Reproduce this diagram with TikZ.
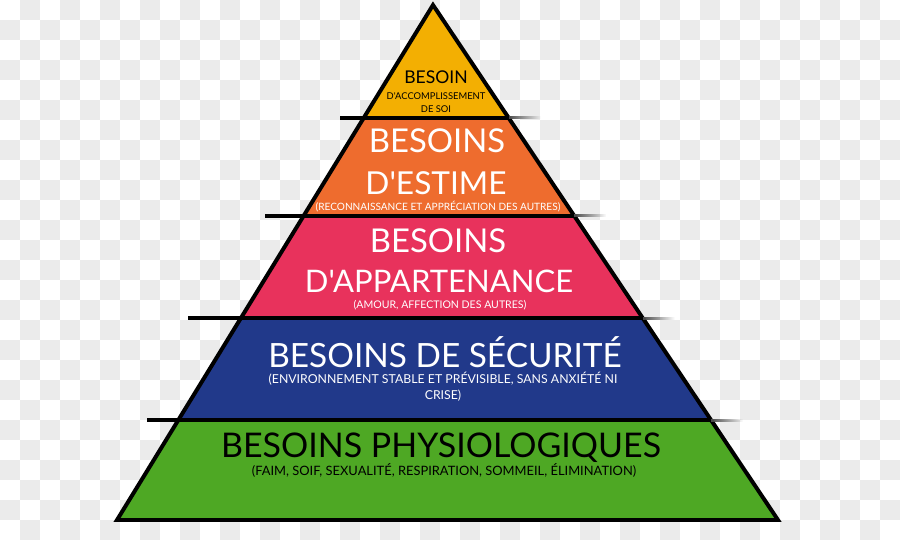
\documentclass[tikz,border=0pt]{standalone}
\usepackage{fontspec}
\newfontfamily\pyr{Lato}
\usetikzlibrary{fadings}

\begin{document}
\begin{tikzpicture}[x=0.03cm,y=-0.03cm,
  big/.style={font=\pyr\fontsize{#1}{#1}\selectfont,inner sep=0pt,anchor=base},
  big/.default=28,
  sub/.style={font=\pyr\fontsize{#1}{#1}\selectfont,inner sep=0pt,anchor=base},
  sub/.default=8]

\definecolor{tilegray}{RGB}{235,235,235}
\definecolor{lvlyellow}{RGB}{243,175,2}
\definecolor{lvlorange}{RGB}{238,108,46}
\definecolor{lvlpink}{RGB}{232,50,92}
\definecolor{lvlblue}{RGB}{33,57,138}
\definecolor{lvlgreen}{RGB}{78,168,36}

\useasboundingbox (0,0) rectangle (900,540);

% checkered background
\foreach \i in {0,...,44}{
\foreach \j in {0,...,26}{
\ifodd\numexpr\i+\j\relax
\fill[tilegray] (20*\i,20*\j) rectangle ++(20,20);
\fi
}}

\coordinate (apex) at (433,5);
\coordinate (baseL) at (117,520);
\coordinate (baseR) at (778,520);

% the five levels
\foreach \ya/\yb/\col in {5/118/lvlyellow,118/216/lvlorange,216/318/lvlpink,318/420/lvlblue,420/520/lvlgreen}{
\pgfmathsetmacro\tl{433-316/515*(\ya-5)}
\pgfmathsetmacro\tr{433+345/515*(\ya-5)}
\pgfmathsetmacro\bl{433-316/515*(\yb-5)}
\pgfmathsetmacro\br{433+345/515*(\yb-5)}
\fill[\col] (\tl,\ya)--(\tr,\ya)--(\br,\yb)--(\bl,\yb)--cycle;
}

\draw[line width=3.4pt,line join=miter] (apex)--(baseL)--(baseR)--cycle;

% separating bars
\foreach \y/\x in {118/340,216/265,318/188,420/147}{
\pgfmathsetmacro\xr{433+345/515*(\y-5)}
\fill[black!70,path fading=east] (\xr,\y-1.5) rectangle (\xr+32,\y+1.5);
\draw[line width=4pt] (\x,\y)--(\xr,\y);
}

\node[big=15] (acc1) at (436,84) {BESOIN};
\node[sub] (acc2) at (436,100) {D'ACCOMPLISSEMENT};
\node[sub] (acc3) at (436,113) {DE SOI};

\node[big,text=white] (est1) at (437,153) {BESOINS};
\node[big=27,text=white] (est2) at (436,195) {D'ESTIME};
\node[sub=8.6,text=white] (est3) at (438,211) {(RECONNAISSANCE ET APPRÉCIATION DES AUTRES)};

\node[big,text=white] (app1) at (438,252) {BESOINS};
\node[big=26.5,text=white] (app2) at (439,292) {D'APPARTENANCE};
\node[sub=9,text=white] (app3) at (440,308) {(AMOUR, AFFECTION DES AUTRES)};

\node[big=28.5,text=white] (sec1) at (445,367) {BESOINS DE SÉCURITÉ};
\node[sub=10.5,text=white] (sec2) at (443,383) {(ENVIRONNEMENT STABLE ET PRÉVISIBLE, SANS ANXIÉTÉ NI};
\node[sub=10.5,text=white] (sec3) at (443,399) {CRISE)};

\node[big=29] (phy1) at (441,457) {BESOINS PHYSIOLOGIQUES};
\node[sub=11] (phy2) at (444,475) {(FAIM, SOIF, SEXUALITÉ, RESPIRATION, SOMMEIL, ÉLIMINATION)};

\end{tikzpicture}
\end{document}
